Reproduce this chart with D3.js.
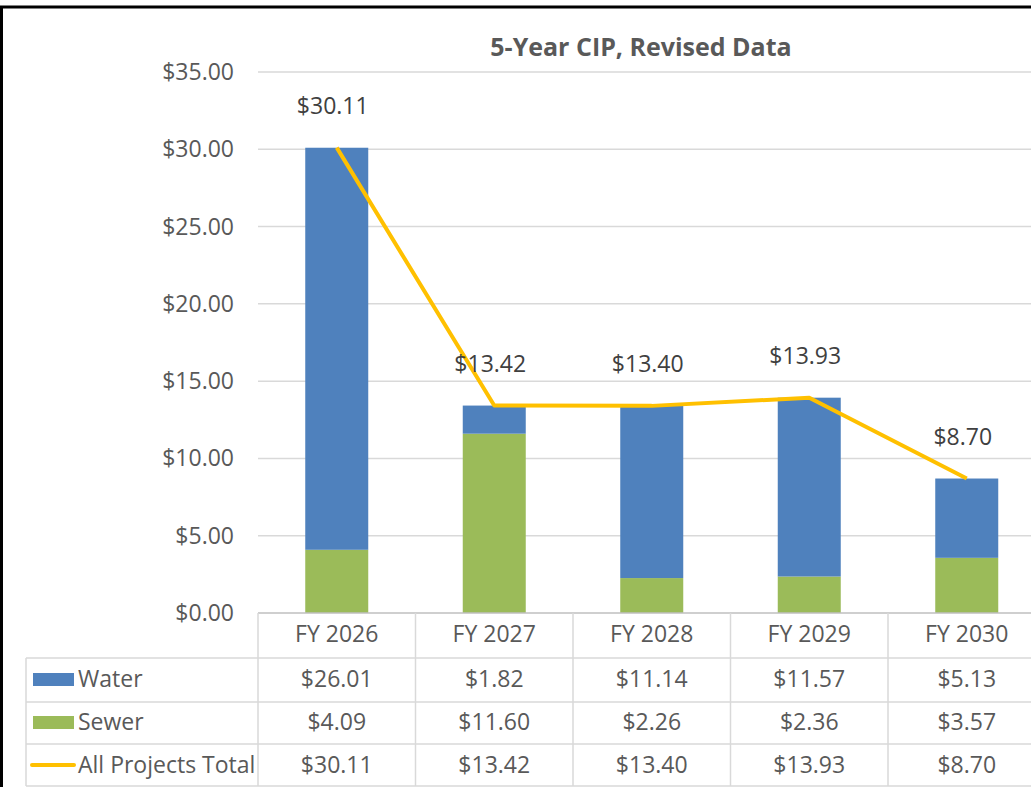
<!DOCTYPE html>
<html>
<head>
<meta charset="utf-8">
<script src="https://cdn.jsdelivr.net/npm/d3@7"></script>
<style>
  body { margin: 0; background: #fff; }
  svg text { font-family: "Open Sans", "Noto Sans", sans-serif; fill: #595959; }
</style>
</head>
<body>
<svg id="chart" width="1031" height="787"></svg>
<script>
const years = ["FY 2026", "FY 2027", "FY 2028", "FY 2029", "FY 2030"];
const water = [26.01, 1.82, 11.14, 11.57, 5.13];
const sewer = [4.09, 11.60, 2.26, 2.36, 3.57];
const total = [30.11, 13.42, 13.40, 13.93, 8.70];
const yTicks = [0, 5, 10, 15, 20, 25, 30, 35];

const colors = { water: "#4F81BD", sewer: "#9BBB59", total: "#FFC000" };
const money = (v) => "$" + d3.format(".2f")(v);
const fs = 23;

const svg = d3.select("#chart");

// plot area (the right edge runs past the picture, as in the screenshot)
const plotLeft = 258, plotRight = 1045.5, plotTop = 72, plotBottom = 613;

const x = d3.scaleBand().domain(years).range([plotLeft, plotRight]).paddingInner(0).paddingOuter(0);
const y = d3.scaleLinear().domain([0, 35]).range([plotBottom, plotTop]);
const barW = x.bandwidth() * 0.4;
const cx = (d) => x(d) + x.bandwidth() / 2;

// gridlines
svg.append("g")
  .selectAll("line")
  .data(yTicks.filter((t) => t > 0))
  .enter()
  .append("line")
  .attr("x1", plotLeft).attr("x2", plotRight)
  .attr("y1", (d) => y(d)).attr("y2", (d) => y(d))
  .attr("stroke", "#D9D9D9").attr("stroke-width", 1.5);

// y axis labels
svg.append("g")
  .selectAll("text")
  .data(yTicks)
  .enter()
  .append("text")
  .attr("x", 234)
  .attr("y", (d) => y(d) + 8)
  .attr("text-anchor", "end")
  .attr("font-size", fs)
  .text(money);

// stacked bars
const rows = years.map((yr, i) => ({ yr, water: water[i], sewer: sewer[i], total: total[i] }));
const stack = d3.stack().keys(["sewer", "water"])(rows);

svg.append("g")
  .selectAll("g")
  .data(stack)
  .enter()
  .append("g")
  .attr("fill", (s) => colors[s.key])
  .selectAll("rect")
  .data((s) => s)
  .enter()
  .append("rect")
  .attr("x", (d) => cx(d.data.yr) - barW / 2)
  .attr("width", barW)
  .attr("y", (d) => y(d[1]))
  .attr("height", (d) => y(d[0]) - y(d[1]));

// total line
const line = d3.line().x((d) => cx(d.yr)).y((d) => y(d.total));
svg.append("path")
  .datum(rows)
  .attr("d", line)
  .attr("fill", "none")
  .attr("stroke", colors.total)
  .attr("stroke-width", 4)
  .attr("stroke-linejoin", "round");

// total labels
svg.append("g")
  .selectAll("text")
  .data(rows)
  .enter()
  .append("text")
  .attr("x", (d) => cx(d.yr) - 4)
  .attr("y", (d) => y(d.total) - 34)
  .attr("text-anchor", "middle")
  .attr("font-size", fs)
  .style("fill", "#404040")
  .text((d) => money(d.total));

// title
svg.append("text")
  .attr("x", 641)
  .attr("y", 56)
  .attr("text-anchor", "middle")
  .attr("font-size", 25)
  .attr("font-weight", "bold")
  .text("5-Year CIP, Revised Data");

// data table
const rowLines = [613, 658, 702, 744, 786];
const grid = svg.append("g").attr("stroke", "#D9D9D9").attr("stroke-width", 1.5);

grid.append("line").attr("x1", plotLeft).attr("x2", plotRight).attr("y1", 613).attr("y2", 613).attr("stroke", "#BFBFBF");
rowLines.slice(1).forEach((ry) => {
  grid.append("line").attr("x1", 26).attr("x2", plotRight).attr("y1", ry).attr("y2", ry);
});
grid.append("line").attr("x1", 26).attr("x2", 26).attr("y1", 658).attr("y2", 786);
years.forEach((yr) => {
  grid.append("line").attr("x1", x(yr)).attr("x2", x(yr)).attr("y1", 613).attr("y2", 786);
});

const tableRows = [
  { key: "years", vals: years, mid: 634 },
  { key: "water", vals: water.map(money), mid: 679, label: "Water" },
  { key: "sewer", vals: sewer.map(money), mid: 722, label: "Sewer" },
  { key: "total", vals: total.map(money), mid: 765, label: "All Projects Total" },
];

tableRows.forEach((r) => {
  svg.append("g")
    .selectAll("text")
    .data(r.vals)
    .enter()
    .append("text")
    .attr("x", (d, i) => cx(years[i]))
    .attr("y", r.mid + 8)
    .attr("text-anchor", "middle")
    .attr("font-size", fs)
    .text((d) => d);

  if (!r.label) return;
  if (r.key === "total") {
    svg.append("line")
      .attr("x1", 32).attr("x2", 74)
      .attr("y1", r.mid).attr("y2", r.mid)
      .attr("stroke", colors.total).attr("stroke-width", 4)
      .attr("stroke-linecap", "round");
  } else {
    svg.append("rect")
      .attr("x", 33).attr("y", r.mid - 6)
      .attr("width", 41).attr("height", 13)
      .attr("fill", colors[r.key]);
  }
  svg.append("text")
    .attr("x", 78)
    .attr("y", r.mid + 8)
    .attr("font-size", fs)
    .text(r.label);
});

// outer frame (top and left edges visible)
svg.append("line").attr("x1", 0).attr("x2", 1031).attr("y1", 7).attr("y2", 7).attr("stroke", "#000").attr("stroke-width", 3);
svg.append("line").attr("x1", 1.5).attr("x2", 1.5).attr("y1", 6).attr("y2", 787).attr("stroke", "#000").attr("stroke-width", 3);
</script>
</body>
</html>
